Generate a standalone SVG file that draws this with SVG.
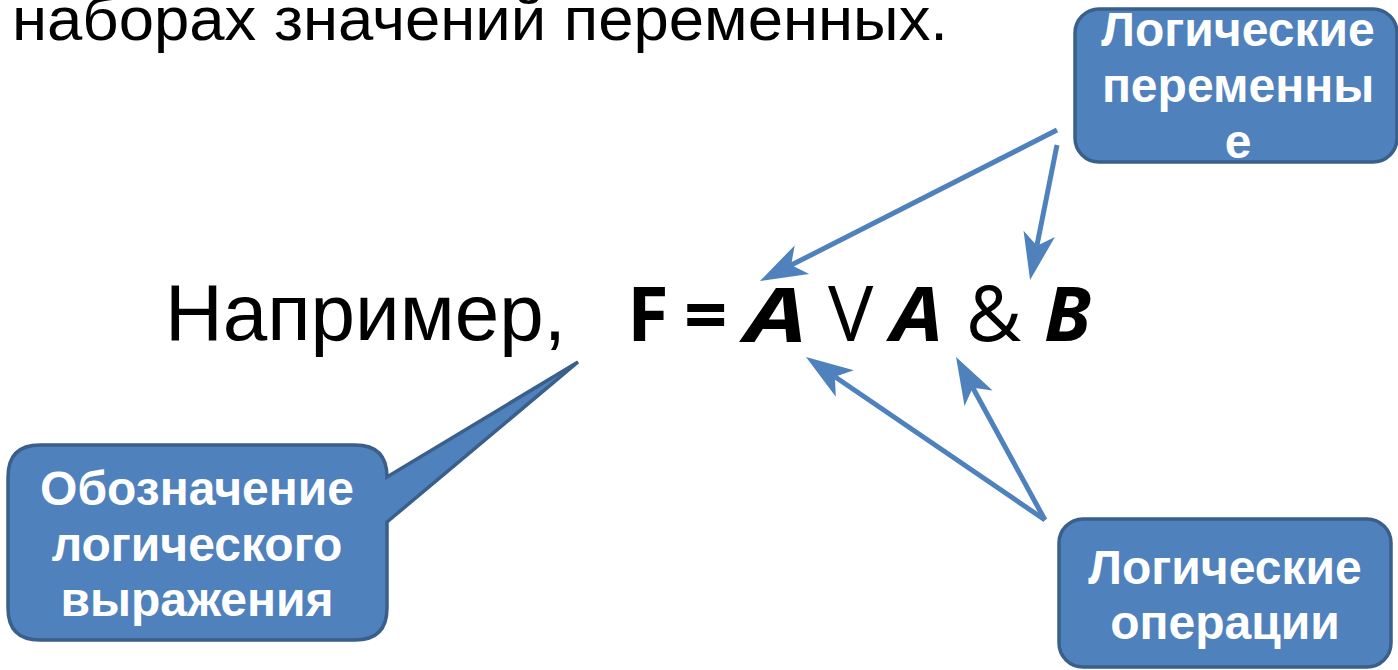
<svg xmlns="http://www.w3.org/2000/svg" width="1398" height="670" viewBox="0 0 1398 670">
<style>
.box{fill:#4F81BD;stroke:#3A5F8B;stroke-width:3.5}
.lbl{font-family:"Liberation Sans",Arial,sans-serif;font-weight:bold;font-size:48px;fill:#FFFFFF;text-anchor:middle}
.main{font-family:"Liberation Sans",Arial,sans-serif;fill:#000000}
.f{font-family:"Open Sans","Noto Sans",sans-serif;fill:#000000;font-size:76px}
.conn{stroke:#4F81BD;stroke-width:5;fill:none;marker-end:url(#ah)}
</style>
<defs>
<marker id="ah" markerUnits="userSpaceOnUse" orient="auto" markerWidth="60" markerHeight="40" overflow="visible">
<path d="M35,0 L-12,-16 L0,0 L-12,16 Z" fill="#4F81BD"/>
</marker>
</defs>
<rect width="1398" height="670" fill="#FFFFFF"/>
<text class="main" x="12" y="40" font-size="62" textLength="936" lengthAdjust="spacingAndGlyphs">наборах значений переменных.</text>
<text class="main" x="165" y="340" font-size="80">Например,</text>
<g id="formula">
<text class="f" x="627" y="341" font-weight="bold">F</text>
<text class="f" x="684" y="341" font-weight="bold">=</text>
<text class="f" x="745" y="342" font-weight="bold" font-style="italic" font-size="92" textLength="62" lengthAdjust="spacingAndGlyphs">A</text>
<text class="f" x="828" y="341">V</text>
<text class="f" x="891" y="341" font-weight="bold" font-style="italic" textLength="52" lengthAdjust="spacingAndGlyphs">A</text>
<text class="f" x="966" y="341">&amp;</text>
<text class="f" x="1044" y="341" font-weight="bold" font-style="italic">B</text>
</g>
<g id="connectors">
<line class="conn" x1="1057" y1="130" x2="791.2" y2="265.1"/>
<line class="conn" x1="1057" y1="145" x2="1036.9" y2="245.7"/>
<line class="conn" x1="1045" y1="520" x2="834.9" y2="376.7"/>
<line class="conn" x1="1045" y1="520" x2="972.8" y2="387.7"/>
</g>
<g id="node-vars">
<rect class="box" x="1075" y="9" width="322" height="153" rx="24"/>
<text class="lbl" x="1238" y="46">Логические</text>
<text class="lbl" x="1238" y="102">переменны</text>
<text class="lbl" x="1238" y="158">е</text>
</g>
<g id="node-expr">
<path class="box" d="M40,445 H355 Q387,445 387,477 L578,362 L387,522 V608 Q387,640 355,640 H40 Q8,640 8,608 V477 Q8,445 40,445 Z"/>
<text class="lbl" x="197" y="505">Обозначение</text>
<text class="lbl" x="197" y="561">логического</text>
<text class="lbl" x="197" y="616">выражения</text>
</g>
<g id="node-ops">
<rect class="box" x="1059" y="519" width="332" height="148" rx="24"/>
<text class="lbl" x="1225" y="584">Логические</text>
<text class="lbl" x="1225" y="639">операции</text>
</g>
</svg>
